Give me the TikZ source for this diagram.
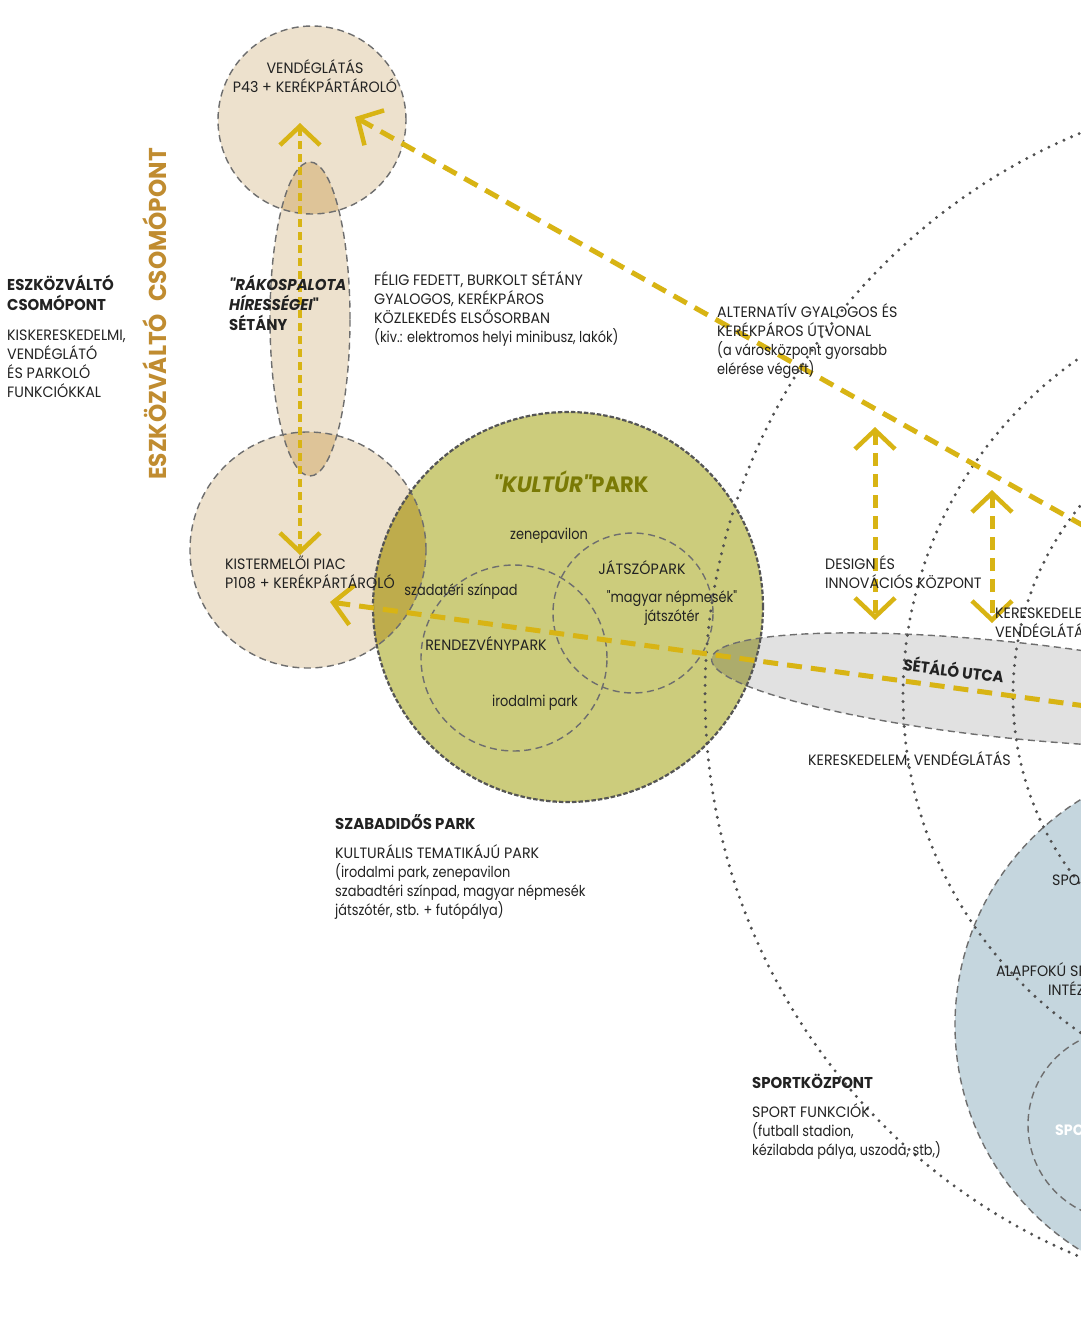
\documentclass[tikz,border=0pt]{standalone}
\usepackage{fontspec}
\newfontfamily\capsfont{Poppins}[FakeStretch=0.95]
\newfontfamily\lowfont{Poppins}[FakeStretch=0.86]
\usetikzlibrary{arrows.meta}
\definecolor{beige}{RGB}{237,225,205}
\definecolor{beigedark}{RGB}{222,196,152}
\definecolor{olive}{RGB}{204,204,124}
\definecolor{olivedark}{RGB}{190,172,76}
\definecolor{olivegray}{RGB}{172,172,108}
\definecolor{streetgray}{RGB}{225,225,225}
\definecolor{sportblue}{RGB}{197,214,222}
\definecolor{gold}{RGB}{216,180,20}
\definecolor{titlegold}{RGB}{192,140,48}
\definecolor{titleolive}{RGB}{122,122,5}
\definecolor{edge}{RGB}{110,110,110}
\definecolor{parkedge}{RGB}{85,85,85}
\definecolor{dotc}{RGB}{80,80,80}
\definecolor{txt}{RGB}{34,34,34}
\begin{document}
\begin{tikzpicture}[x=1pt,y=1pt,
  zone/.style={draw=edge,line width=1.4pt,dash pattern=on 7pt off 4.5pt},
  parkline/.style={draw=parkedge,line width=2.2pt,dash pattern=on 4.5pt off 2pt},
  ring/.style={draw=dotc,line width=3.3pt,line cap=round,dash pattern=on 0pt off 8.3pt},
  route/.style={draw=gold,line width=5pt,dash pattern=on 15pt off 9pt},
  walkway/.style={draw=gold,line width=4pt,dash pattern=on 8pt off 5pt},
  link/.style={draw=gold,line width=5pt,dash pattern=on 13pt off 8pt},
  >={Straight Barb[length=19pt,width=40pt,line width=4.5pt]},
  lbl/.style={font=\capsfont\fontsize{15}{19}\selectfont,text=txt,inner sep=0pt,align=left,anchor=base west},
  low/.style={lbl,font=\lowfont\fontsize{15}{19}\selectfont},
  head/.style={font=\capsfont\fontsize{15.7}{20}\selectfont\bfseries,text=txt,inner sep=0pt,align=left,anchor=base west}]
\useasboundingbox (0,0) rectangle (1080,-1323);
\fill[white] (0,0) rectangle (1080,-1323);

% named centres
\coordinate (cTop) at (312,-120);
\coordinate (cPiac) at (308,-550);
\coordinate (cWalk) at (310,-319);
\coordinate (cPark) at (568,-607);
\coordinate (cRend) at (514,-658);
\coordinate (cJat) at (633,-613);
\coordinate (cStreet) at (1010,-690);
\coordinate (cSport) at (1220,-1025);
\coordinate (cSportIn) at (1123,-1125);
\coordinate (cCity) at (1313,-695);

% fills
\fill[beige] (cTop) circle[radius=94];
\fill[beige] (cPiac) circle[radius=118];
\fill[beige] (cWalk) ellipse[x radius=40,y radius=157];
\begin{scope}
  \clip (cWalk) ellipse[x radius=40,y radius=157];
  \fill[beigedark] (cTop) circle[radius=94] (cPiac) circle[radius=118];
\end{scope}
\fill[olive] (cPark) circle[radius=195];
\fill[streetgray,rotate around={-6:(cStreet)}] (cStreet) ellipse[x radius=300,y radius=48];
\begin{scope}
  \clip (cPark) circle[radius=195];
  \fill[olivedark] (cPiac) circle[radius=118];
  \fill[olivegray,rotate around={-6:(cStreet)}] (cStreet) ellipse[x radius=300,y radius=48];
\end{scope}
\fill[sportblue] (cSport) circle[radius=265];

% borders
\draw[zone] (cWalk) ellipse[x radius=40,y radius=157];
\draw[zone] (cTop) circle[radius=94];
\draw[zone] (cPiac) circle[radius=118];
\draw[zone] (cRend) circle[radius=93];
\draw[zone] (cJat) circle[radius=80];
\draw[zone,rotate around={-6:(cStreet)}] (cStreet) ellipse[x radius=300,y radius=48];
\draw[zone] (cSport) circle[radius=265];
\draw[zone] (cSportIn) circle[radius=95];
\draw[parkline] (cPark) circle[radius=195];

% dotted rings round the centre
\draw[ring] (cCity) circle[radius=608];
\draw[ring] (cCity) circle[radius=410];
\draw[ring] (cCity) circle[radius=300];

% routes
\coordinate (aTop) at (355,-117);
\coordinate (aTopEnd) at (1100,-535);
\coordinate (aPiac) at (330,-602);
\coordinate (aPiacEnd) at (1100,-708);
\coordinate (wN) at (300,-123);
\coordinate (wS) at (300,-555);
\coordinate (dN) at (875,-427);
\coordinate (dS) at (875,-620);
\coordinate (kN) at (992,-490);
\coordinate (kS) at (992,-623);
\draw[route,<-] (aTop) -- (aTopEnd);
\draw[route,<-] (aPiac) -- (aPiacEnd);
\draw[walkway,<->] (wN) -- (wS);
\draw[link,<->] (dN) -- (dS);
\draw[link,<->] (kN) -- (kS);

% texts (base anchor of a multi-line node = baseline of its last line)
\node[lbl,anchor=base,align=center] (tTop) at (315,-92.5) {VENDÉGLÁTÁS\\P43 + KERÉKPÁRTÁROLÓ};
\node[lbl] (tPiac) at (225,-588.5) {KISTERMELŐI PIAC\\P108 + KERÉKPÁRTÁROLÓ};
\node[lbl] (tFelig) at (374,-342.5) {FÉLIG FEDETT, BURKOLT SÉTÁNY\\GYALOGOS, KERÉKPÁROS\\KÖZLEKEDÉS ELSŐSORBAN\\{\lowfont(kiv.: elektromos helyi minibusz, lakók)}};
\node[head] (tEszk) at (7,-310) {ESZKÖZVÁLTÓ\\CSOMÓPONT};
\node[lbl] (tEszkD) at (7,-397.5) {KISKERESKEDELMI,\\VENDÉGLÁTÓ\\ÉS PARKOLÓ\\FUNKCIÓKKAL};
\node[font=\capsfont\fontsize{24.4}{28}\selectfont\bfseries,text=titlegold,rotate=90,inner sep=0pt,anchor=base] (tVert) at (166,-314) {ESZKÖZVÁLTÓ\hspace{0.5em}CSOMÓPONT};
\node[head] (tRakos) at (229,-330) {{\itshape"RÁKOSPALOTA}\\{\itshape HÍRESSÉGEI}"\\SÉTÁNY};
\node[lbl] (tAlt) at (717,-374.5) {ALTERNATÍV GYALOGOS ÉS\\KERÉKPÁROS ÚTVONAL\\{\lowfont(a városközpont gyorsabb}\\{\lowfont elérése végett)}};
\node[font=\capsfont\fontsize{22.2}{26}\selectfont\bfseries,text=titleolive,inner sep=0pt,anchor=base] (tKultur) at (571,-492) {{\itshape"KULTÚR"}PARK};
\node[low,anchor=base] (tZene) at (549,-539) {zenepavilon};
\node[lbl,anchor=base] (tJatszo) at (642,-574.5) {JÁTSZÓPARK};
\node[low,anchor=base,align=center] (tNepmese) at (672,-621) {"magyar népmesék"\\játszótér};
\node[low,anchor=base] (tSzinpad) at (461,-595.5) {szadatéri színpad};
\node[lbl,anchor=base] (tRendezveny) at (486,-650.5) {RENDEZVÉNYPARK};
\node[low,anchor=base] (tIrodalmi) at (535,-706.5) {irodalmi park};
\node[lbl] (tDesign) at (825,-588.5) {DESIGN ÉS\\INNOVÁCIÓS KÖZPONT};
\node[lbl] (tKeres1) at (995,-637.5) {KERESKEDELEM,\\VENDÉGLÁTÁS};
\node[font=\capsfont\fontsize{15.7}{20}\selectfont\bfseries,text=txt,rotate=-7,inner sep=0pt,anchor=base] (tSetalo) at (953,-677) {SÉTÁLÓ UTCA};
\node[lbl] (tKeres2) at (808,-765.5) {KERESKEDELEM, VENDÉGLÁTÁS};
\node[head] (tSzabad) at (335,-829.5) {SZABADIDŐS PARK};
\node[lbl] (tSzabadD) at (335,-915.5) {KULTURÁLIS TEMATIKÁJÚ PARK\\{\lowfont(irodalmi park, zenepavilon}\\{\lowfont szabadtéri színpad, magyar népmesék}\\{\lowfont játszótér, stb. + futópálya)}};
\node[head] (tSport) at (752,-1088.5) {SPORTKÖZPONT};
\node[lbl] (tSportD) at (752,-1155.5) {SPORT FUNKCIÓK\\{\lowfont(futball stadion,}\\{\lowfont kézilabda pálya, uszoda, stb,)}};
\node[lbl] (tSpo1) at (1052,-885.5) {SPORT};
\node[lbl] (tAlap) at (996,-976.5) {ALAPFOKÚ SPORT};
\node[lbl] (tIntez) at (1048,-995.5) {INTÉZMÉNY};
\node[lbl,font=\capsfont\fontsize{15}{19}\selectfont\bfseries,text=white] (tSpo2) at (1055,-1135.5) {SPORT};
\end{tikzpicture}
\end{document}
